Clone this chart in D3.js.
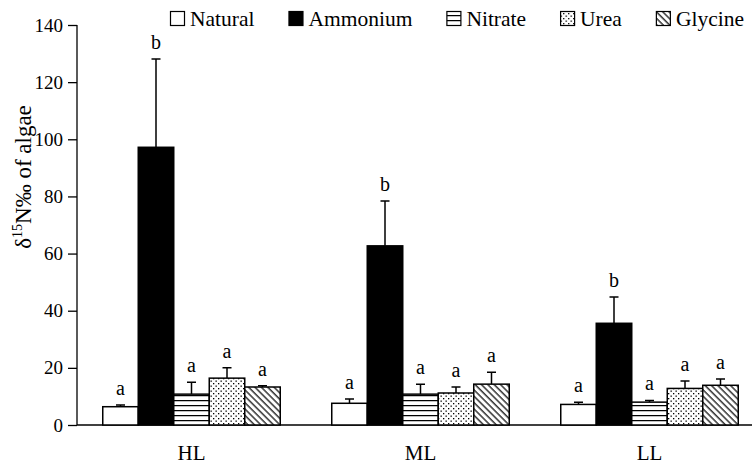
<!DOCTYPE html>
<html>
<head>
<meta charset="utf-8">
<script src="https://cdn.jsdelivr.net/npm/d3@7"></script>
<style>
  body { margin: 0; background: #fff; }
  svg text { font-family: "Liberation Serif", "Times New Roman", serif !important; fill: #000; }
</style>
</head>
<body>
<svg id="chart" width="752" height="465"></svg>
<script>
// data
const sites = ["HL", "ML", "LL"];
const treatments = ["Natural", "Ammonium", "Nitrate", "Urea", "Glycine"];
const means = {
  HL: [6.4, 97.2, 10.8, 16.4, 13.3],
  ML: [7.6, 62.7, 10.8, 11.2, 14.3],
  LL: [7.2, 35.6, 8.0, 12.8, 13.9]
};
const errs = {
  HL: [0.6, 30.9, 4.2, 3.6, 0.4],
  ML: [1.5, 15.7, 3.5, 2.1, 4.2],
  LL: [0.8, 9.2, 0.6, 2.6, 2.2]
};
const letters = {
  HL: ["a", "b", "a", "a", "a"],
  ML: ["a", "b", "a", "a", "a"],
  LL: ["a", "b", "a", "a", "a"]
};
const yTicks = [0, 20, 40, 60, 80, 100, 120, 140];

const svg = d3.select("#chart");
const mLeft = 77, mTop = 25, mBottom = 425;

// fill patterns
const defs = svg.append("defs");
const hz = defs.append("pattern").attr("id", "p-Nitrate")
  .attr("patternUnits", "userSpaceOnUse").attr("width", 8).attr("height", 5);
hz.append("rect").attr("width", 8).attr("height", 5).attr("fill", "#fff");
hz.append("line").attr("x1", 0).attr("x2", 8).attr("y1", 0.5).attr("y2", 0.5)
  .attr("stroke", "#000").attr("stroke-width", 1.5);

const dots = defs.append("pattern").attr("id", "p-Urea")
  .attr("patternUnits", "userSpaceOnUse").attr("width", 5).attr("height", 5);
dots.append("rect").attr("width", 5).attr("height", 5).attr("fill", "#fff");
dots.append("rect").attr("x", 0.5).attr("y", 0.5).attr("width", 1.3).attr("height", 1.3).attr("fill", "#000");
dots.append("rect").attr("x", 3).attr("y", 3).attr("width", 1.3).attr("height", 1.3).attr("fill", "#000");

const diag = defs.append("pattern").attr("id", "p-Glycine")
  .attr("patternUnits", "userSpaceOnUse").attr("width", 4.5).attr("height", 4.5)
  .attr("patternTransform", "rotate(-45)");
diag.append("rect").attr("width", 4.5).attr("height", 4.5).attr("fill", "#fff");
diag.append("line").attr("x1", 1).attr("x2", 1).attr("y1", 0).attr("y2", 4.5)
  .attr("stroke", "#000").attr("stroke-width", 1.2);

const fills = {
  Natural: "#fff",
  Ammonium: "#000",
  Nitrate: "url(#p-Nitrate)",
  Urea: "url(#p-Urea)",
  Glycine: "url(#p-Glycine)"
};

// scales
const y = d3.scaleLinear().domain([0, 140]).range([mBottom, mTop]);
const x0 = d3.scaleBand().domain(sites).range([mLeft, mLeft + 3 * 229]);
const x1 = d3.scaleBand().domain(treatments).range([-88.75, 88.75]);

// axes
svg.append("g")
  .attr("transform", `translate(${mLeft},0)`)
  .call(d3.axisLeft(y).tickValues(yTicks).tickSize(9).tickPadding(5))
  .call(g => g.attr("font-family", null).attr("font-size", 19))
  .call(g => g.select(".domain").attr("d", `M0,${mTop}V${mBottom}`))
  .call(g => g.selectAll("line, path").attr("stroke", "#000").attr("stroke-width", 1.3));

svg.append("line")
  .attr("x1", mLeft).attr("x2", 752).attr("y1", mBottom).attr("y2", mBottom)
  .attr("stroke", "#000").attr("stroke-width", 1.3);

svg.append("g").selectAll("text").data(sites).join("text")
  .attr("x", d => x0(d) + x0.bandwidth() / 2)
  .attr("y", 460)
  .attr("text-anchor", "middle")
  .attr("font-size", 21)
  .text(d => d);

// y label
const yl = svg.append("text")
  .attr("transform", "translate(31,177) rotate(-90)")
  .attr("text-anchor", "middle")
  .attr("font-size", 23);
yl.append("tspan").text("δ");
yl.append("tspan").attr("font-size", 14).attr("dy", -9).text("15");
yl.append("tspan").attr("dy", 9).text("N‰ of algae");

// bars
const rows = sites.flatMap(s => treatments.map((t, i) => ({
  site: s, t: t, v: means[s][i], e: errs[s][i], l: letters[s][i]
})));
const cx = d => x0(d.site) + x0.bandwidth() / 2 + x1(d.t);

const g = svg.append("g");
// error bars (upper only)
g.selectAll(".err").data(rows).join("path")
  .attr("class", "err")
  .attr("d", d => {
    const m = cx(d) + x1.bandwidth() / 2;
    return `M${m},${y(d.v)}V${y(d.v + d.e)}M${m - 4.5},${y(d.v + d.e)}H${m + 4.5}`;
  })
  .attr("fill", "none").attr("stroke", "#000").attr("stroke-width", 1.5);

g.selectAll(".bar").data(rows).join("rect")
  .attr("class", "bar")
  .attr("x", d => cx(d))
  .attr("y", d => y(d.v))
  .attr("width", x1.bandwidth())
  .attr("height", d => mBottom - y(d.v))
  .attr("fill", d => fills[d.t])
  .attr("stroke", "#000").attr("stroke-width", 1.5);

g.selectAll(".sig").data(rows).join("text")
  .attr("class", "sig")
  .attr("x", d => cx(d) + x1.bandwidth() / 2)
  .attr("y", d => y(d.v + d.e) - 10)
  .attr("text-anchor", "middle")
  .attr("font-size", 20)
  .text(d => d.l);

// legend
const leg = svg.append("g").attr("transform", "translate(170,0)");
let lx = 0;
treatments.forEach(t => {
  const item = leg.append("g").attr("transform", `translate(${lx},0)`);
  item.append("rect").attr("x", 0.5).attr("y", 11.5).attr("width", 14).attr("height", 14)
    .attr("fill", fills[t]).attr("stroke", "#000").attr("stroke-width", 1.2);
  const tx = item.append("text").attr("x", 20).attr("y", 26).attr("font-size", 21.5).text(t);
  lx += 20 + tx.node().getComputedTextLength() + 34;
});
</script>
</body>
</html>
